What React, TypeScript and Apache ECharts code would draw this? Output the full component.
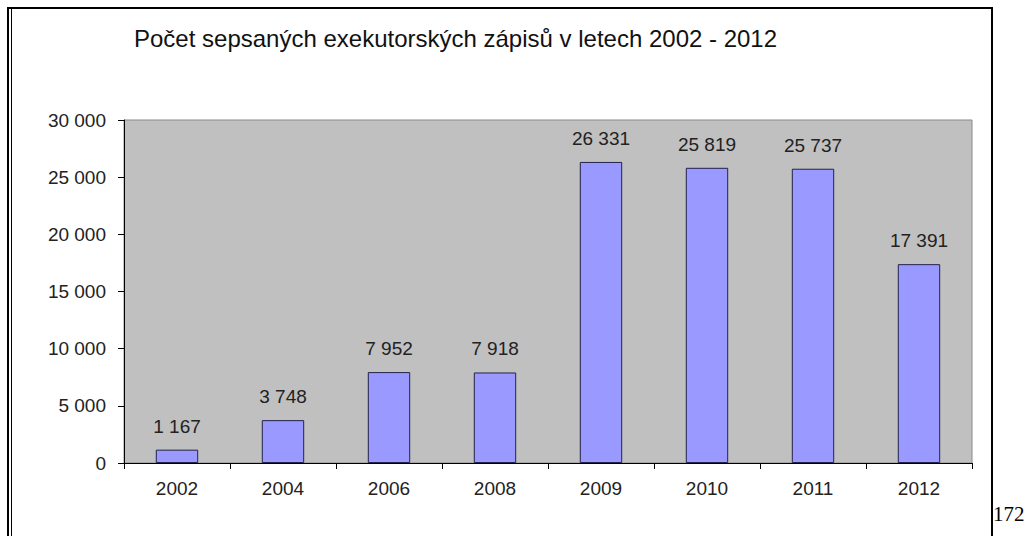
import React, { useEffect, useRef } from "react";
import * as echarts from "echarts";

const titleText = "Počet sepsaných exekutorských zápisů v letech 2002 - 2012";
const categories = ["2002", "2004", "2006", "2008", "2009", "2010", "2011", "2012"];
const values = [1167, 3748, 7952, 7918, 26331, 25819, 25737, 17391];
const yTicks = { min: 0, max: 30000, interval: 5000 };
const pageNumber = "172";

const fmt = (v: number) => String(Math.round(v)).replace(/\B(?=(\d{3})+(?!\d))/g, " ");

export default function App() {
  const ref = useRef<HTMLDivElement>(null);
  useEffect(() => {
    if (!ref.current) return;
    const chart = echarts.init(ref.current, null, { renderer: "svg" });
    const font = "'Liberation Sans', Arial, sans-serif";
    chart.setOption({
      animation: false,
      backgroundColor: "#ffffff",
      title: {
        text: titleText,
        left: 129,
        top: 21,
        textStyle: { fontFamily: font, fontSize: 24, fontWeight: "normal", color: "#111" },
      },
      grid: {
        left: 124,
        top: 120,
        right: 57,
        bottom: 73,
        show: true,
        backgroundColor: "#c0c0c0",
        borderColor: "#8a8a8a",
        borderWidth: 1,
      },
      xAxis: {
        type: "category",
        data: categories,
        boundaryGap: true,
        axisLine: { show: true, lineStyle: { color: "#000", width: 1 } },
        axisTick: { show: true, length: 6, alignWithLabel: false, lineStyle: { color: "#000" } },
        axisLabel: { margin: 16, fontFamily: font, fontSize: 19, color: "#222" },
        splitLine: { show: false },
      },
      yAxis: {
        type: "value",
        min: yTicks.min,
        max: yTicks.max,
        interval: yTicks.interval,
        axisLine: { show: true, lineStyle: { color: "#000", width: 1 } },
        axisTick: { show: true, length: 6, lineStyle: { color: "#000" } },
        axisLabel: { margin: 18, fontFamily: font, fontSize: 19, color: "#222", formatter: (v: number) => fmt(v) },
        splitLine: { show: false },
      },
      series: [
        {
          type: "bar",
          data: values,
          barWidth: "40%",
          itemStyle: { color: "#9999ff", borderColor: "#22224a", borderWidth: 1 },
          label: {
            show: true,
            position: "top",
            distance: 14,
            fontFamily: font,
            fontSize: 19,
            color: "#222",
            formatter: (p: any) => fmt(p.value),
          },
        },
      ],
      graphic: [
        { type: "line", shape: { x1: 7, y1: 8, x2: 993, y2: 8 }, style: { stroke: "#000", lineWidth: 2 } },
        { type: "line", shape: { x1: 8, y1: 7, x2: 8, y2: 536 }, style: { stroke: "#000", lineWidth: 2 } },
        { type: "line", shape: { x1: 11.5, y1: 9, x2: 11.5, y2: 536 }, style: { stroke: "#000", lineWidth: 1 } },
        { type: "line", shape: { x1: 992, y1: 7, x2: 992, y2: 536 }, style: { stroke: "#000", lineWidth: 2 } },
        {
          type: "text",
          left: 993,
          top: 503,
          style: { text: pageNumber, font: "21px 'Liberation Serif', 'Times New Roman', serif", fill: "#000" },
        },
      ],
    });
    return () => chart.dispose();
  }, []);
  return <div ref={ref} style={{ position: "fixed", left: 0, top: 0, width: 1029, height: 536 }} />;
}
